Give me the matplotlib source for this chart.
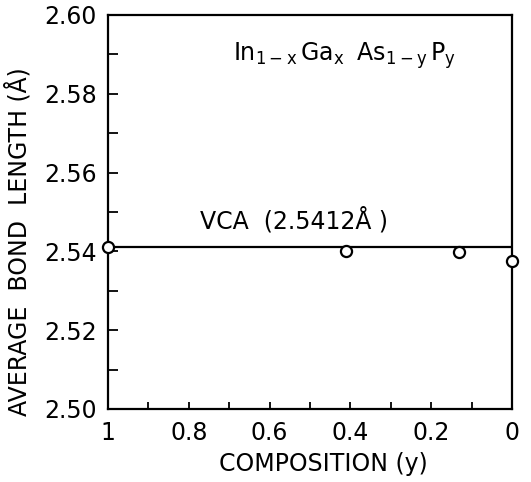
import matplotlib
matplotlib.use('Agg')
import matplotlib.pyplot as plt
from matplotlib.ticker import MultipleLocator, FuncFormatter

plt.rcParams['font.family'] = ['DejaVu Sans']

# data
comp_y = [1.0, 0.41, 0.13, 0.0]
bond_len = [2.5410, 2.5401, 2.5399, 2.5376]
vca_x = [1.0, 0.0]
vca_val = [2.5412, 2.5412]

fig = plt.figure(figsize=(5.31, 4.82), dpi=100)
ax = fig.add_axes([0.2034, 0.1515, 0.7608, 0.8174])

ax.plot(vca_x, vca_val, color='black', lw=1.6, zorder=2)
ax.plot(comp_y, bond_len, 'o', ms=8, mfc='white', mec='black', mew=1.6,
        clip_on=False, zorder=3)

ax.set_xlim(1, 0)
ax.set_ylim(2.50, 2.60)

ax.xaxis.set_major_locator(MultipleLocator(0.2))
ax.xaxis.set_minor_locator(MultipleLocator(0.1))
ax.yaxis.set_major_locator(MultipleLocator(0.02))
ax.yaxis.set_minor_locator(MultipleLocator(0.01))
ax.xaxis.set_major_formatter(FuncFormatter(lambda v, p: '%g' % round(v, 1)))
ax.yaxis.set_major_formatter(FuncFormatter(lambda v, p: '%.2f' % v))

ax.tick_params(which='both', direction='in', top=False, right=False,
               width=1.3, labelsize=17, color='black')
ax.tick_params(axis='y', which='both', length=7, pad=8)
ax.tick_params(axis='x', which='both', length=5, pad=9)

for s in ax.spines.values():
    s.set_linewidth(1.6)

ax.set_xlabel('COMPOSITION (y)', fontsize=17, va='center')
ax.xaxis.set_label_coords(0.532, -0.14)
ax.set_ylabel('AVERAGE  BOND  LENGTH (Å)', fontsize=17, va='center')
ax.yaxis.set_label_coords(-0.222, 0.426)

ax.text(0.691, 2.5898, r'$\mathregular{In_{1-x}\,Ga_x\;\;As_{1-y}\,P_y}$',
        fontsize=17, ha='left', va='center')
ax.text(0.772, 2.5478, 'VCA  (2.5412Å )', fontsize=17, ha='left', va='center')

plt.savefig('out.png', dpi=100)
